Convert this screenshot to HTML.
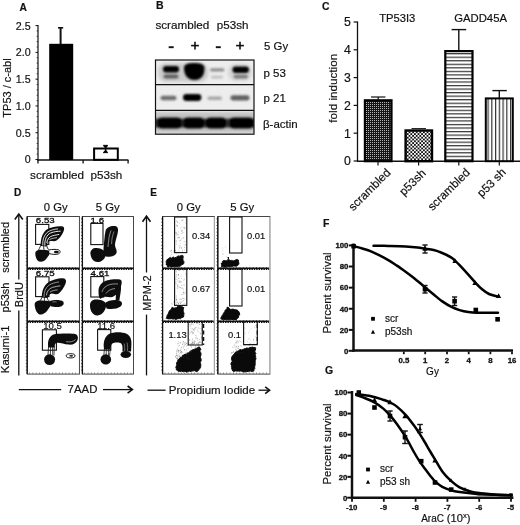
<!DOCTYPE html>
<html><head><meta charset="utf-8"><title>Figure</title>
<style>html,body{margin:0;padding:0;background:#fff}svg{display:block}text{fill:#111;stroke:#111;stroke-width:0.18px}</style></head><body>
<svg width="520" height="525" viewBox="0 0 520 525" font-family="Liberation Sans, Arial, sans-serif">
<defs>
<pattern id="pc1" width="2" height="2" patternUnits="userSpaceOnUse"><rect width="2" height="2" fill="#161616"/><rect width="1" height="1" fill="#b4b4b4"/></pattern>
<pattern id="pc2" width="3.6" height="3.6" patternUnits="userSpaceOnUse"><rect width="3.6" height="3.6" fill="#fff"/><rect width="1.8" height="1.8" fill="#111"/><rect x="1.8" y="1.8" width="1.8" height="1.8" fill="#111"/></pattern>
<pattern id="ph" width="4" height="3.54" patternUnits="userSpaceOnUse"><rect width="4" height="3.54" fill="#fff"/><rect y="0" width="4" height="1.2" fill="#333"/></pattern>
<pattern id="pv" width="3.75" height="4" patternUnits="userSpaceOnUse"><rect width="3.75" height="4" fill="#fff"/><rect x="0" width="1.2" height="4" fill="#333"/></pattern>
<filter id="bl1" x="-20%" y="-50%" width="140%" height="200%"><feGaussianBlur stdDeviation="1.3"/></filter>
<filter id="bl2" x="-20%" y="-50%" width="140%" height="200%"><feGaussianBlur stdDeviation="1.8"/></filter>
<filter id="soft"><feGaussianBlur stdDeviation="0.35"/></filter>
</defs>
<rect width="520" height="525" fill="#fff"/>
<g id="panelA">
<text x="19.6" y="10.6" font-size="10.2" text-anchor="start" font-weight="bold">A</text>
<line x1="38" y1="25" x2="38" y2="160.5" stroke="#111" stroke-width="1.2"/>
<line x1="37.4" y1="160" x2="128.4" y2="160" stroke="#111" stroke-width="1.4"/>
<line x1="38" y1="160" x2="38" y2="163.6" stroke="#111" stroke-width="1.3"/>
<line x1="83.1" y1="160" x2="83.1" y2="163.6" stroke="#111" stroke-width="1.3"/>
<line x1="128.1" y1="160" x2="128.1" y2="163.6" stroke="#111" stroke-width="1.3"/>
<line x1="35.5" y1="159.5" x2="38" y2="159.5" stroke="#111" stroke-width="1"/>
<line x1="36.6" y1="154.14" x2="38" y2="154.14" stroke="#111" stroke-width="0.7"/>
<line x1="36.6" y1="148.79" x2="38" y2="148.79" stroke="#111" stroke-width="0.7"/>
<line x1="36.6" y1="143.43" x2="38" y2="143.43" stroke="#111" stroke-width="0.7"/>
<line x1="36.6" y1="138.08" x2="38" y2="138.08" stroke="#111" stroke-width="0.7"/>
<line x1="35.5" y1="132.72" x2="38" y2="132.72" stroke="#111" stroke-width="1"/>
<line x1="36.6" y1="127.36" x2="38" y2="127.36" stroke="#111" stroke-width="0.7"/>
<line x1="36.6" y1="122.01" x2="38" y2="122.01" stroke="#111" stroke-width="0.7"/>
<line x1="36.6" y1="116.65" x2="38" y2="116.65" stroke="#111" stroke-width="0.7"/>
<line x1="36.6" y1="111.3" x2="38" y2="111.3" stroke="#111" stroke-width="0.7"/>
<line x1="35.5" y1="105.94" x2="38" y2="105.94" stroke="#111" stroke-width="1"/>
<line x1="36.6" y1="100.58" x2="38" y2="100.58" stroke="#111" stroke-width="0.7"/>
<line x1="36.6" y1="95.23" x2="38" y2="95.23" stroke="#111" stroke-width="0.7"/>
<line x1="36.6" y1="89.87" x2="38" y2="89.87" stroke="#111" stroke-width="0.7"/>
<line x1="36.6" y1="84.52" x2="38" y2="84.52" stroke="#111" stroke-width="0.7"/>
<line x1="35.5" y1="79.16" x2="38" y2="79.16" stroke="#111" stroke-width="1"/>
<line x1="36.6" y1="73.8" x2="38" y2="73.8" stroke="#111" stroke-width="0.7"/>
<line x1="36.6" y1="68.45" x2="38" y2="68.45" stroke="#111" stroke-width="0.7"/>
<line x1="36.6" y1="63.09" x2="38" y2="63.09" stroke="#111" stroke-width="0.7"/>
<line x1="36.6" y1="57.74" x2="38" y2="57.74" stroke="#111" stroke-width="0.7"/>
<line x1="35.5" y1="52.38" x2="38" y2="52.38" stroke="#111" stroke-width="1"/>
<line x1="36.6" y1="47.02" x2="38" y2="47.02" stroke="#111" stroke-width="0.7"/>
<line x1="36.6" y1="41.67" x2="38" y2="41.67" stroke="#111" stroke-width="0.7"/>
<line x1="36.6" y1="36.31" x2="38" y2="36.31" stroke="#111" stroke-width="0.7"/>
<line x1="36.6" y1="30.96" x2="38" y2="30.96" stroke="#111" stroke-width="0.7"/>
<line x1="35.5" y1="25.6" x2="38" y2="25.6" stroke="#111" stroke-width="1"/>
<text x="30.6" y="29.5" font-size="10.7" text-anchor="end">2.5</text>
<text x="30.6" y="56.28" font-size="10.7" text-anchor="end">2.0</text>
<text x="30.6" y="83.06" font-size="10.7" text-anchor="end">1.5</text>
<text x="30.6" y="109.84" font-size="10.7" text-anchor="end">1.0</text>
<text x="30.6" y="136.62" font-size="10.7" text-anchor="end">0.5</text>
<text x="30.6" y="163.4" font-size="10.7" text-anchor="end">0</text>
<text x="10.6" y="88" font-size="11" text-anchor="middle" transform="rotate(-90 10.6 88)">TP53 / c-abl</text>
<rect x="49.2" y="43.8" width="24" height="116.2" fill="#000"/>
<line x1="60.6" y1="28" x2="60.6" y2="44" stroke="#111" stroke-width="2"/>
<line x1="58" y1="27.8" x2="63.2" y2="27.8" stroke="#111" stroke-width="1.6"/>
<rect x="94.1" y="148.5" width="23.7" height="11.3" fill="#fff" stroke="#000" stroke-width="2"/>
<line x1="105.6" y1="145.5" x2="105.6" y2="152.5" stroke="#111" stroke-width="1.5"/>
<line x1="103.1" y1="145.5" x2="107.9" y2="145.5" stroke="#111" stroke-width="1.3"/>
<line x1="103.1" y1="152.5" x2="107.9" y2="152.5" stroke="#111" stroke-width="1.3"/>
<path d="M103.4 146 h4.4 l-2.2 2.6z M105.6 149.6 l2.2 2.6 h-4.4z" fill="#000"/>
<text x="30.1" y="179" font-size="11.7" text-anchor="start">scrambled</text>
<text x="90.5" y="179" font-size="11.7" text-anchor="start">p53sh</text>
</g>
<g id="panelB">
<text x="156" y="9" font-size="10.5" text-anchor="start" font-weight="bold">B</text>
<text x="155.4" y="28.7" font-size="11.7" text-anchor="start">scrambled</text>
<text x="216.8" y="28.7" font-size="11.6" text-anchor="start">p53sh</text>
<line x1="168.7" y1="47.2" x2="173.7" y2="47.2" stroke="#111" stroke-width="1.9"/>
<line x1="215.8" y1="47.2" x2="220.8" y2="47.2" stroke="#111" stroke-width="1.9"/>
<line x1="191.1" y1="45.6" x2="198.9" y2="45.6" stroke="#111" stroke-width="1.6"/>
<line x1="195" y1="41.7" x2="195" y2="49.5" stroke="#111" stroke-width="1.6"/>
<line x1="236.1" y1="45.6" x2="243.9" y2="45.6" stroke="#111" stroke-width="1.6"/>
<line x1="240" y1="41.7" x2="240" y2="49.5" stroke="#111" stroke-width="1.6"/>
<text x="264.1" y="50" font-size="11.4" text-anchor="start">5 Gy</text>
<text x="263.5" y="77" font-size="11.5" text-anchor="start">p 53</text>
<text x="263.5" y="102" font-size="11.5" text-anchor="start">p 21</text>
<text x="263" y="128" font-size="11.5" text-anchor="start">β-actin</text>
<clipPath id="blotclip"><rect x="155.5" y="60" width="98.5" height="74"/></clipPath>
<rect x="155.5" y="60" width="98.5" height="74" fill="#ededed"/>
<g clip-path="url(#blotclip)">
<g filter="url(#bl2)" opacity="0.5">
<rect x="158" y="63" width="50" height="19" rx="8" fill="#aaa"/>
<rect x="228" y="64" width="24" height="17" rx="8" fill="#bbb"/>
<rect x="155" y="112" width="100" height="21" fill="#999"/>
</g>
<g filter="url(#bl1)">
<rect x="163" y="66" width="16" height="6.6" rx="3" fill="#000"/>
<rect x="163.5" y="74.4" width="15" height="4.2" rx="2" fill="#444" opacity="0.8"/>
<path d="M184 68 C184 64 188 63 194 63 C200 63 204.5 64 204.5 68 C204.5 73 203 80 194.5 80 C186 80 184 73 184 68Z" fill="#000"/>
<path d="M185.5 68 C185.5 65 189 64.2 194 64.2 C199 64.2 203 65 203 68 C203 73 201 78.6 194.5 78.6 C188 78.6 185.5 73 185.5 68Z" fill="#000"/>
<rect x="210" y="68.2" width="14.5" height="3.4" rx="1.7" fill="#666" opacity="0.7"/>
<rect x="211" y="75.8" width="12" height="2.6" rx="1.3" fill="#888" opacity="0.45"/>
<rect x="232.5" y="66.4" width="16.4" height="6.6" rx="3" fill="#000"/>
<rect x="233.5" y="74.8" width="14.5" height="3.6" rx="1.8" fill="#555" opacity="0.7"/>
<rect x="160.5" y="95.8" width="16" height="4.4" rx="2.2" fill="#444" opacity="0.75"/>
<rect x="183" y="94" width="18.4" height="7" rx="3.4" fill="#000"/>
<rect x="207.5" y="96.4" width="14.5" height="3.6" rx="1.8" fill="#777" opacity="0.6"/>
<rect x="230.5" y="95.2" width="19" height="5.2" rx="2.6" fill="#333" opacity="0.75"/>
</g>
<g filter="url(#bl1)">
<rect x="150" y="118.6" width="110" height="9" fill="#333"/>
<rect x="157" y="117.4" width="25" height="11.2" rx="5" fill="#000"/>
<rect x="183" y="117.4" width="21.5" height="11.2" rx="5" fill="#000"/>
<rect x="205.5" y="117.4" width="21" height="11.2" rx="5" fill="#000"/>
<rect x="229" y="117.4" width="25" height="11.2" rx="5" fill="#000"/>
</g>
</g>
<rect x="155.5" y="60" width="98.5" height="74.2" fill="none" stroke="#111" stroke-width="1.2"/>
<line x1="155.5" y1="84.7" x2="254" y2="84.7" stroke="#111" stroke-width="1.2"/>
<line x1="155.5" y1="110.4" x2="254" y2="110.4" stroke="#111" stroke-width="1.4"/>
</g>
<g id="panelC">
<text x="322" y="9.7" font-size="10.4" text-anchor="start" font-weight="bold">C</text>
<line x1="357.5" y1="21.5" x2="357.5" y2="161.6" stroke="#111" stroke-width="1.3"/>
<line x1="357" y1="161.2" x2="520" y2="161.2" stroke="#111" stroke-width="1.4"/>
<line x1="353.6" y1="161.0" x2="357.5" y2="161.0" stroke="#111" stroke-width="1.2"/>
<text x="350.8" y="165.4" font-size="12.3" text-anchor="end">0</text>
<line x1="353.6" y1="133.2" x2="357.5" y2="133.2" stroke="#111" stroke-width="1.2"/>
<text x="350.8" y="137.6" font-size="12.3" text-anchor="end">1</text>
<line x1="353.6" y1="105.4" x2="357.5" y2="105.4" stroke="#111" stroke-width="1.2"/>
<text x="350.8" y="109.8" font-size="12.3" text-anchor="end">2</text>
<line x1="353.6" y1="77.6" x2="357.5" y2="77.6" stroke="#111" stroke-width="1.2"/>
<text x="350.8" y="82.0" font-size="12.3" text-anchor="end">3</text>
<line x1="353.6" y1="49.8" x2="357.5" y2="49.8" stroke="#111" stroke-width="1.2"/>
<text x="350.8" y="54.2" font-size="12.3" text-anchor="end">4</text>
<line x1="353.6" y1="22.0" x2="357.5" y2="22.0" stroke="#111" stroke-width="1.2"/>
<text x="350.8" y="26.4" font-size="12.3" text-anchor="end">5</text>
<text x="336.6" y="88.2" font-size="11.7" text-anchor="middle" transform="rotate(-90 336.6 88.2)">fold induction</text>
<text x="397.2" y="21.8" font-size="11.2" text-anchor="middle">TP53I3</text>
<text x="480.6" y="21.8" font-size="11.3" text-anchor="middle">GADD45A</text>
<rect x="364.90000000000003" y="100.3" width="26.600000000000012" height="60.899999999999984" fill="url(#pc1)" stroke="#000" stroke-width="2.2"/>
<line x1="378.2" y1="97" x2="378.2" y2="99.5" stroke="#111" stroke-width="1.3"/>
<line x1="371" y1="97" x2="385.4" y2="97" stroke="#111" stroke-width="1.2"/>
<rect x="405.59999999999997" y="130.5" width="26.400000000000013" height="30.699999999999978" fill="url(#pc2)" stroke="#000" stroke-width="2.4"/>
<line x1="411.5" y1="128.6" x2="426" y2="128.6" stroke="#111" stroke-width="1"/>
<rect x="445.3" y="51.1" width="27.200000000000035" height="110.1" fill="url(#ph)" stroke="#000" stroke-width="2.2"/>
<line x1="458.8" y1="29.5" x2="458.8" y2="50.5" stroke="#111" stroke-width="1.4"/>
<line x1="451.6" y1="29.6" x2="466.2" y2="29.6" stroke="#111" stroke-width="1.4"/>
<rect x="485.8" y="98.4" width="26.999999999999943" height="62.79999999999998" fill="url(#pv)" stroke="#000" stroke-width="2"/>
<line x1="499.3" y1="90.6" x2="499.3" y2="98" stroke="#111" stroke-width="1.4"/>
<line x1="492.4" y1="90.6" x2="506.8" y2="90.6" stroke="#111" stroke-width="1.4"/>
<line x1="378" y1="161.5" x2="378" y2="165.4" stroke="#111" stroke-width="1.2"/>
<line x1="418.6" y1="161.5" x2="418.6" y2="165.4" stroke="#111" stroke-width="1.2"/>
<line x1="458.8" y1="161.5" x2="458.8" y2="165.4" stroke="#111" stroke-width="1.2"/>
<line x1="499.3" y1="161.5" x2="499.3" y2="165.4" stroke="#111" stroke-width="1.2"/>
<text x="391.3" y="173.3" font-size="11.7" text-anchor="end" transform="rotate(-45 391.3 173.3)">scrambled</text>
<text x="426.5" y="173.8" font-size="11.7" text-anchor="end" transform="rotate(-45 426.5 173.8)">p53sh</text>
<text x="470.6" y="173.2" font-size="11.7" text-anchor="end" transform="rotate(-45 470.6 173.2)">scrambled</text>
<text x="506.6" y="173" font-size="11.7" text-anchor="end" transform="rotate(-45 506.6 173)">p53 sh</text>
</g>
<g id="panelD">
<text x="14" y="196" font-size="10" text-anchor="start" font-weight="bold">D</text>
<text x="55.7" y="210.9" font-size="11.3" text-anchor="middle">0 Gy</text>
<text x="107.7" y="210.9" font-size="11.3" text-anchor="middle">5 Gy</text>
<text x="9.3" y="247.3" font-size="11" text-anchor="middle" transform="rotate(-90 9.3 247.3)">scrambled</text>
<text x="9.3" y="297.5" font-size="11" text-anchor="middle" transform="rotate(-90 9.3 297.5)">p53sh</text>
<text x="9.1" y="349.3" font-size="11.3" text-anchor="middle" transform="rotate(-90 9.1 349.3)">Kasumi-1</text>
<text x="23.3" y="294.6" font-size="11" text-anchor="middle" transform="rotate(-90 23.3 294.6)">BrdU</text>
<line x1="18.8" y1="214.5" x2="18.8" y2="279.5" stroke="#111" stroke-width="1.3"/>
<line x1="18.8" y1="310.5" x2="18.8" y2="375.4" stroke="#111" stroke-width="1.3"/>
<path d="M14.8 219.5 L18.8 214 L22.8 219.5" fill="none" stroke="#111" stroke-width="1.6"/>
<line x1="18.8" y1="389.6" x2="61.2" y2="389.6" stroke="#111" stroke-width="1.3"/>
<line x1="103" y1="389.6" x2="132" y2="389.6" stroke="#111" stroke-width="1.3"/>
<path d="M127.6 386 L132.4 389.6 L127.6 393.2" fill="none" stroke="#111" stroke-width="1.6"/>
<text x="82.5" y="393" font-size="11.4" text-anchor="middle">7AAD</text>
<rect x="27.2" y="216.5" width="52.2" height="52.0" fill="#fff" stroke="#333" stroke-width="0.9"/>
<rect x="27.2" y="268.5" width="52.2" height="53.0" fill="#fff" stroke="#333" stroke-width="0.9"/>
<rect x="27.2" y="321.5" width="52.2" height="52.60000000000002" fill="#fff" stroke="#333" stroke-width="0.9"/>
<line x1="27.2" y1="268.2" x2="79.4" y2="268.2" stroke="#111" stroke-width="1.5"/>
<line x1="27.2" y1="269.3" x2="79.4" y2="269.3" stroke="#111" stroke-width="1.2" stroke-dasharray="1.5 0.9"/>
<line x1="27.2" y1="321.2" x2="79.4" y2="321.2" stroke="#111" stroke-width="1.5"/>
<line x1="27.2" y1="322.3" x2="79.4" y2="322.3" stroke="#111" stroke-width="1.2" stroke-dasharray="1.5 0.9"/>
<line x1="27.2" y1="216.5" x2="27.2" y2="268.5" stroke="#111" stroke-width="1.3"/>
<line x1="26.3" y1="218.5" x2="26.3" y2="267.5" stroke="#111" stroke-width="1" stroke-dasharray="0.8 2.5" opacity="0.85"/>
<line x1="29.2" y1="267.5" x2="78.4" y2="267.5" stroke="#111" stroke-width="1" stroke-dasharray="0.7 2.6" opacity="0.8"/>
<line x1="27.2" y1="268.5" x2="27.2" y2="321.5" stroke="#111" stroke-width="1.3"/>
<line x1="26.3" y1="270.5" x2="26.3" y2="320.5" stroke="#111" stroke-width="1" stroke-dasharray="0.8 2.5" opacity="0.85"/>
<line x1="29.2" y1="320.5" x2="78.4" y2="320.5" stroke="#111" stroke-width="1" stroke-dasharray="0.7 2.6" opacity="0.8"/>
<line x1="27.2" y1="321.5" x2="27.2" y2="374.1" stroke="#111" stroke-width="1.3"/>
<line x1="26.3" y1="323.5" x2="26.3" y2="373.1" stroke="#111" stroke-width="1" stroke-dasharray="0.8 2.5" opacity="0.85"/>
<line x1="29.2" y1="373.1" x2="78.4" y2="373.1" stroke="#111" stroke-width="1" stroke-dasharray="0.7 2.6" opacity="0.8"/>
<rect x="82.4" y="216.5" width="51.099999999999994" height="52.0" fill="#fff" stroke="#333" stroke-width="0.9"/>
<rect x="82.4" y="268.5" width="51.099999999999994" height="53.0" fill="#fff" stroke="#333" stroke-width="0.9"/>
<rect x="82.4" y="321.5" width="51.099999999999994" height="52.60000000000002" fill="#fff" stroke="#333" stroke-width="0.9"/>
<line x1="82.4" y1="268.2" x2="133.5" y2="268.2" stroke="#111" stroke-width="1.5"/>
<line x1="82.4" y1="269.3" x2="133.5" y2="269.3" stroke="#111" stroke-width="1.2" stroke-dasharray="1.5 0.9"/>
<line x1="82.4" y1="321.2" x2="133.5" y2="321.2" stroke="#111" stroke-width="1.5"/>
<line x1="82.4" y1="322.3" x2="133.5" y2="322.3" stroke="#111" stroke-width="1.2" stroke-dasharray="1.5 0.9"/>
<line x1="82.4" y1="216.5" x2="82.4" y2="268.5" stroke="#111" stroke-width="1.3"/>
<line x1="81.5" y1="218.5" x2="81.5" y2="267.5" stroke="#111" stroke-width="1" stroke-dasharray="0.8 2.5" opacity="0.85"/>
<line x1="84.4" y1="267.5" x2="132.5" y2="267.5" stroke="#111" stroke-width="1" stroke-dasharray="0.7 2.6" opacity="0.8"/>
<line x1="82.4" y1="268.5" x2="82.4" y2="321.5" stroke="#111" stroke-width="1.3"/>
<line x1="81.5" y1="270.5" x2="81.5" y2="320.5" stroke="#111" stroke-width="1" stroke-dasharray="0.8 2.5" opacity="0.85"/>
<line x1="84.4" y1="320.5" x2="132.5" y2="320.5" stroke="#111" stroke-width="1" stroke-dasharray="0.7 2.6" opacity="0.8"/>
<line x1="82.4" y1="321.5" x2="82.4" y2="374.1" stroke="#111" stroke-width="1.3"/>
<line x1="81.5" y1="323.5" x2="81.5" y2="373.1" stroke="#111" stroke-width="1" stroke-dasharray="0.8 2.5" opacity="0.85"/>
<line x1="84.4" y1="373.1" x2="132.5" y2="373.1" stroke="#111" stroke-width="1" stroke-dasharray="0.7 2.6" opacity="0.8"/>
<rect x="35.6" y="224.4" width="13.199999999999996" height="20.0" fill="#fff" fill-opacity="0.6" stroke="#111" stroke-width="1.1"/>
<g transform="translate(27 216)" filter="url(#soft)">
<path d="M14.6 27 C13.6 30 12.6 32 11.6 34 M17 28 C16.4 31 16.8 33 17.2 34.5 M19.8 29 C19.8 31.5 20.8 33 22.4 34.2" fill="none" stroke="#111" stroke-width="0.9"/>
<path d="M8.3 38 C8 35 10.5 33.6 14 33.8 C17.5 34 21.5 34 23.2 35.2 C23.6 37.5 21.5 40 19.5 42.5 C17.5 45 15 46.2 12.5 45.6 C9.8 44.8 8.5 41 8.3 38Z" fill="#0a0a0a"/>
<path d="M22 34 C25 33.2 29 33.2 31.5 33.8 C33.6 34.4 33.6 37.2 31.5 37.9 C28.5 38.8 25 38.4 22.5 37.6" fill="#fff" stroke="#111" stroke-width="1"/>
<ellipse cx="29.4" cy="36" rx="2.5" ry="1.2" fill="#111"/>
<path d="M13.8 30 C13.4 24 15 17.5 19 14 C23.5 10.8 30.5 9.8 35 10.3 C37.6 10.8 37.6 13 36.4 15.8 C35 19.2 32.4 22.6 29.6 24.6 C27.4 25.8 24.4 24.6 22 25.4 C20 26.4 20 28.6 19.6 30.6Z" fill="#111"/>
<path d="M15.8 29.5 C15.4 24 16.8 19.5 20.2 16.4 C23 14.2 27 13.2 31 12.9" fill="none" stroke="#fff" stroke-width="0.9" opacity="0.85"/>
<path d="M17.8 29.6 C17.6 23.5 19.5 19 23.5 17 C27 15.6 31 15.2 33.6 15.2" fill="none" stroke="#fff" stroke-width="1" opacity="0.9"/>
<path d="M19.8 27 C20.2 23 22.5 20.6 25.5 19.8 C28 19.1 30.5 18.8 32.2 18.4" fill="none" stroke="#fff" stroke-width="1" opacity="0.9"/>
<path d="M22.5 23.6 C24.5 22.4 27.5 22 30 21.6" fill="none" stroke="#fff" stroke-width="0.8" opacity="0.85"/>
</g>
<text transform="translate(35.8 223.4) scale(1.2 1)" font-size="8.1" style="stroke-width:0.3px">6.53</text>
<rect x="35.6" y="276.8" width="13.399999999999999" height="19.80000000000001" fill="#fff" fill-opacity="0.6" stroke="#111" stroke-width="1.1"/>
<g transform="translate(27 268)" filter="url(#soft)">
<path d="M15.4 28 C14.6 30.5 13.6 32 12.6 33.5 M17.6 28.5 C17.2 31 17.4 32.6 17.8 33.8 M20.2 29.4 C20.4 31.4 21.4 32.6 22.8 33.4" fill="none" stroke="#111" stroke-width="0.9"/>
<path d="M7.7 37 C7.4 34 10 32.3 14 32.5 C18 32.7 22.5 32.8 24.3 34 C24.8 36.6 22.5 39.6 20.3 42.6 C18.2 45.4 15.5 47 12.6 46.4 C9.6 45.6 7.9 40.6 7.7 37Z" fill="#0a0a0a"/>
<path d="M23 33 C26.5 31.8 32 31.8 35 32.8 C37.4 33.8 37.2 37 34.6 38.2 C31 39.6 26.5 39.2 23.4 38Z" fill="#111"/>
<path d="M25.5 34.2 C27 33.6 28.6 33.6 29.6 34" fill="none" stroke="#fff" stroke-width="0.6" opacity="0.7"/>
<path d="M14.9 29.5 C14.5 24 16.5 18.5 20.2 15.2 C24.5 11.8 31.5 10 36 10.2 C39 10.6 39.6 12.8 38.6 15.4 C37.2 19 34.6 23 31.8 25.6 C30 27.2 27.4 25.8 24.8 25.6 C22.6 25.8 21.4 27.6 20.6 30Z" fill="#111"/>
<path d="M17 29 C16.8 24 18.5 20 21.5 17.5 C24.5 15.4 28.5 14.4 32 14" fill="none" stroke="#fff" stroke-width="0.7" opacity="0.75"/>
<path d="M19.4 27.4 C19.8 23.4 22 20.6 25.4 19.4 C28 18.6 31 18.2 33.4 17.8" fill="none" stroke="#fff" stroke-width="0.8" opacity="0.8"/>
<path d="M23 24 C25 22.6 28 22.2 30.6 21.8" fill="none" stroke="#fff" stroke-width="0.7" opacity="0.8"/>
</g>
<text transform="translate(35.8 276.2) scale(1.2 1)" font-size="8.1" style="stroke-width:0.3px">6.75</text>
<rect x="90.8" y="223.4" width="12.200000000000003" height="21.19999999999999" fill="#fff" fill-opacity="0.6" stroke="#111" stroke-width="1.1"/>
<g filter="url(#soft)">
<path d="M90.5 254 C90 250 93 247.5 97 248 C101 248.5 105 250 105.5 254 C106 258 102 262 97.5 262 C93 262 91 258 90.5 254Z" fill="#0a0a0a"/>
<path d="M103.5 249 C104 243 104.5 236 105.5 231 C106.5 227 111 225.5 115 226 C118.5 226.5 118.5 230 117.5 234 C116.5 238 115 242 115 245 C115 248 117.5 250 116.5 253 C115.5 256 110 257.5 106 256.5 C103 255.8 103.3 252 103.5 249Z" fill="#111"/>
<path d="M108 247 C108.5 241 109 235 111 230.5" fill="none" stroke="#fff" stroke-width="0.7" opacity="0.7"/>
<path d="M111.5 244 C111.8 239 112.5 235 114 231.5" fill="none" stroke="#fff" stroke-width="0.6" opacity="0.7"/>
</g>
<text transform="translate(90.6 223) scale(1.2 1)" font-size="8.1" style="stroke-width:0.3px">1.6</text>
<rect x="90.8" y="276.6" width="13.0" height="20.399999999999977" fill="#fff" fill-opacity="0.6" stroke="#111" stroke-width="1.1"/>
<g filter="url(#soft)">
<path d="M90 306 C89.8 302 92 299.5 96 299.5 C100 299.5 105.5 300.5 106 304.5 C106.5 309 103 315 97.5 315.4 C92.5 315.6 90.2 310.5 90 306Z" fill="#0a0a0a"/>
<path d="M105 303 C108 300.5 114 299.5 119 300.5 C122.5 301.2 122.8 304.5 120.5 306.5 C117.5 309 111 309.6 106.5 308.5Z" fill="#111"/>
<path d="M98.5 291 C98.5 286 101.5 282 106.5 280.5 C111 279.2 117 278.8 120 279.5 C122.5 280.2 122 284 120.5 287.5 C119 291.5 116 295.5 112.5 297 C109.5 298 106 296 103.5 297 C101.5 298 100.5 299.5 99.5 298 C98.7 296.5 98.5 293.5 98.5 291Z" fill="#111"/>
<path d="M116 288 C118 286 120.5 284 121 286 C121.4 290 120 295 119.4 300.5 L115.6 300.5 C115.8 296 116.4 292 116 288Z" fill="#111"/>
<path d="M102 292 C103 288 106 285.5 110 284.5 C113 283.8 116 283.8 118 284" fill="none" stroke="#fff" stroke-width="0.7" opacity="0.7"/>
<path d="M106 293.5 C108 290.5 111 289 115 288.5" fill="none" stroke="#fff" stroke-width="0.7" opacity="0.7"/>
<path d="M108 300 C110 297.5 113 297 115.5 298.5" fill="none" stroke="#fff" stroke-width="0.6" opacity="0.6"/>
</g>
<text transform="translate(90.6 276.2) scale(1.2 1)" font-size="8.1" style="stroke-width:0.3px">4.61</text>
<rect x="42.4" y="329.8" width="14.0" height="20.399999999999977" fill="#fff" fill-opacity="0.6" stroke="#111" stroke-width="1.1"/>
<g filter="url(#soft)">
<ellipse cx="49.6" cy="359.6" rx="5.5" ry="5.4" fill="#0a0a0a"/>
<path d="M48 345 C47.8 340 49.6 335.4 54.5 334.2 C60 333.4 69 333.4 74 333.8 C77.6 334.2 78.6 337 77.6 340 C76.4 343.6 72.5 345 68.5 344.6 C64 344.2 59.5 342.2 56.8 342.8 C54.6 343.4 54.8 345.5 54.6 347.5 L48.2 347.5Z" fill="#111"/>
<path d="M66 341.6 C70 342.4 73.5 341.6 75.6 339.6" fill="none" stroke="#fff" stroke-width="0.7" opacity="0.7"/>
<path d="M48.6 346 C48.4 349 48.2 352 48 355 M50.6 346 C50.5 349 50.4 352 50.4 355 M52.6 346 C52.6 349 52.6 352 52.8 355 M54.4 346 C54.2 349 54 352 54 355.4" fill="none" stroke="#111" stroke-width="0.8"/>
<ellipse cx="70.6" cy="355.8" rx="4.4" ry="2.1" fill="#fff" stroke="#111" stroke-width="1"/>
<ellipse cx="71.2" cy="355.8" rx="2" ry="0.9" fill="#222"/>
</g>
<text x="43.2" y="329.3" font-size="9.6" text-anchor="start">10.5</text>
<rect x="97.6" y="329.6" width="13.200000000000003" height="20.599999999999966" fill="#fff" fill-opacity="0.6" stroke="#111" stroke-width="1.1"/>
<g filter="url(#soft)">
<ellipse cx="105.8" cy="359.4" rx="5.3" ry="5.2" fill="#0a0a0a"/>
<path d="M103.8 347 C103.4 342 104.6 336.4 109.5 333.8 C114 331.8 122 331.8 126.5 333.8 C130.6 335.8 131.6 340 131.4 344 C131.3 347 131.2 349.5 131 351.5 L122.4 351.5 C122.6 348.5 122.8 345 121.2 343.6 C119 342.2 114.5 342.4 112.5 343.6 C110.8 344.8 110.8 347 110.6 349.5 L104 349.5Z" fill="#111"/>
<path d="M104.4 349 C104.2 351.5 104 353.5 103.8 355.5 M106.4 349 C106.3 351.5 106.2 353.5 106.2 355.5 M108.4 349 C108.4 351.5 108.4 353.5 108.6 355.5 M110.2 349 C110 351.5 109.8 353.5 109.6 355.8" fill="none" stroke="#111" stroke-width="0.8"/>
<path d="M124.6 351 C124.6 348 125 345.5 124.2 343.6 M127.4 351 C127.6 348 127.8 345 127 342.6" fill="none" stroke="#fff" stroke-width="0.6" opacity="0.6"/>
<ellipse cx="125.8" cy="354.6" rx="5.3" ry="3.5" fill="#0a0a0a"/>
</g>
<text x="97.2" y="329.3" font-size="9.6" text-anchor="start">11.6</text>
</g>
<g id="panelE">
<text x="150.2" y="195.6" font-size="10" text-anchor="start" font-weight="bold">E</text>
<text x="188.7" y="211.1" font-size="11.3" text-anchor="middle">0 Gy</text>
<text x="242.3" y="211.1" font-size="11.3" text-anchor="middle">5 Gy</text>
<text x="151" y="293" font-size="11" text-anchor="middle" transform="rotate(-90 151 293)">MPM-2</text>
<line x1="146.5" y1="216.5" x2="146.5" y2="272.5" stroke="#111" stroke-width="1.3"/>
<line x1="146.5" y1="314.6" x2="146.5" y2="375.4" stroke="#111" stroke-width="1.3"/>
<path d="M142.5 221.8 L146.5 216.2 L150.5 221.8" fill="none" stroke="#111" stroke-width="1.6"/>
<line x1="147.5" y1="390.2" x2="165.6" y2="390.2" stroke="#111" stroke-width="1.3"/>
<line x1="258.5" y1="390.2" x2="269.2" y2="390.2" stroke="#111" stroke-width="1.3"/>
<path d="M265.2 386.8 L269.6 390.2 L265.2 393.6" fill="none" stroke="#111" stroke-width="1.6"/>
<text x="212" y="394" font-size="11.5" text-anchor="middle">Propidium Iodide</text>
<rect x="162.6" y="216.5" width="51.80000000000001" height="52.0" fill="#fff" stroke="#333" stroke-width="0.9"/>
<rect x="162.6" y="268.5" width="51.80000000000001" height="53.0" fill="#fff" stroke="#333" stroke-width="0.9"/>
<rect x="162.6" y="321.5" width="51.80000000000001" height="52.60000000000002" fill="#fff" stroke="#333" stroke-width="0.9"/>
<line x1="162.6" y1="268.2" x2="214.4" y2="268.2" stroke="#111" stroke-width="1.5"/>
<line x1="162.6" y1="269.3" x2="214.4" y2="269.3" stroke="#111" stroke-width="1.2" stroke-dasharray="1.5 0.9"/>
<line x1="162.6" y1="321.2" x2="214.4" y2="321.2" stroke="#111" stroke-width="1.5"/>
<line x1="162.6" y1="322.3" x2="214.4" y2="322.3" stroke="#111" stroke-width="1.2" stroke-dasharray="1.5 0.9"/>
<line x1="214.4" y1="217.1" x2="214.4" y2="373.5" stroke="#111" stroke-width="1.3" style="stroke:#fff"/>
<line x1="214.4" y1="216.5" x2="214.4" y2="374.1" stroke="#111" stroke-width="1" style="stroke:#999"/>
<line x1="162.6" y1="216.5" x2="162.6" y2="268.5" stroke="#111" stroke-width="1.3"/>
<line x1="161.7" y1="218.5" x2="161.7" y2="267.5" stroke="#111" stroke-width="1" stroke-dasharray="0.8 2.5" opacity="0.85"/>
<line x1="164.6" y1="267.5" x2="213.4" y2="267.5" stroke="#111" stroke-width="1" stroke-dasharray="0.7 2.6" opacity="0.8"/>
<line x1="162.6" y1="268.5" x2="162.6" y2="321.5" stroke="#111" stroke-width="1.3"/>
<line x1="161.7" y1="270.5" x2="161.7" y2="320.5" stroke="#111" stroke-width="1" stroke-dasharray="0.8 2.5" opacity="0.85"/>
<line x1="164.6" y1="320.5" x2="213.4" y2="320.5" stroke="#111" stroke-width="1" stroke-dasharray="0.7 2.6" opacity="0.8"/>
<line x1="162.6" y1="321.5" x2="162.6" y2="374.1" stroke="#111" stroke-width="1.3"/>
<line x1="161.7" y1="323.5" x2="161.7" y2="373.1" stroke="#111" stroke-width="1" stroke-dasharray="0.8 2.5" opacity="0.85"/>
<line x1="164.6" y1="373.1" x2="213.4" y2="373.1" stroke="#111" stroke-width="1" stroke-dasharray="0.7 2.6" opacity="0.8"/>
<rect x="217.8" y="216.5" width="52.099999999999966" height="52.0" fill="#fff" stroke="#333" stroke-width="0.9"/>
<rect x="217.8" y="268.5" width="52.099999999999966" height="53.0" fill="#fff" stroke="#333" stroke-width="0.9"/>
<rect x="217.8" y="321.5" width="52.099999999999966" height="52.60000000000002" fill="#fff" stroke="#333" stroke-width="0.9"/>
<line x1="217.8" y1="268.2" x2="269.9" y2="268.2" stroke="#111" stroke-width="1.5"/>
<line x1="217.8" y1="269.3" x2="269.9" y2="269.3" stroke="#111" stroke-width="1.2" stroke-dasharray="1.5 0.9"/>
<line x1="217.8" y1="321.2" x2="269.9" y2="321.2" stroke="#111" stroke-width="1.5"/>
<line x1="217.8" y1="322.3" x2="269.9" y2="322.3" stroke="#111" stroke-width="1.2" stroke-dasharray="1.5 0.9"/>
<line x1="269.9" y1="217.1" x2="269.9" y2="373.5" stroke="#111" stroke-width="1.3" style="stroke:#fff"/>
<line x1="269.9" y1="216.5" x2="269.9" y2="374.1" stroke="#111" stroke-width="1" style="stroke:#999"/>
<line x1="217.8" y1="216.5" x2="217.8" y2="268.5" stroke="#111" stroke-width="1.3"/>
<line x1="216.9" y1="218.5" x2="216.9" y2="267.5" stroke="#111" stroke-width="1" stroke-dasharray="0.8 2.5" opacity="0.85"/>
<line x1="219.8" y1="267.5" x2="268.9" y2="267.5" stroke="#111" stroke-width="1" stroke-dasharray="0.7 2.6" opacity="0.8"/>
<line x1="217.8" y1="268.5" x2="217.8" y2="321.5" stroke="#111" stroke-width="1.3"/>
<line x1="216.9" y1="270.5" x2="216.9" y2="320.5" stroke="#111" stroke-width="1" stroke-dasharray="0.8 2.5" opacity="0.85"/>
<line x1="219.8" y1="320.5" x2="268.9" y2="320.5" stroke="#111" stroke-width="1" stroke-dasharray="0.7 2.6" opacity="0.8"/>
<line x1="217.8" y1="321.5" x2="217.8" y2="374.1" stroke="#111" stroke-width="1.3"/>
<line x1="216.9" y1="323.5" x2="216.9" y2="373.1" stroke="#111" stroke-width="1" stroke-dasharray="0.8 2.5" opacity="0.85"/>
<line x1="219.8" y1="373.1" x2="268.9" y2="373.1" stroke="#111" stroke-width="1" stroke-dasharray="0.7 2.6" opacity="0.8"/>
<path d="M178.8 223.1h.7M182.3 220.5h.7M181.1 230.4h.7M176.0 235.3h.7M175.8 232.7h.7M176.1 221.1h.7M179.9 246.1h.7M176.7 225.6h.7M182.1 250.2h.7M181.5 231.5h.7M185.7 219.6h.7M184.5 227.8h.7M176.9 222.0h.7M178.7 245.7h.7M177.3 237.8h.7M182.2 230.7h.7M181.2 220.1h.7M176.0 225.0h.7M182.6 232.5h.7M178.7 237.9h.7M180.2 228.2h.7M183.8 241.8h.7M178.0 237.5h.7M181.0 247.8h.7M183.1 227.8h.7M185.8 222.0h.7M179.8 243.7h.7M177.0 234.6h.7M175.8 240.7h.7M183.5 237.5h.7M184.7 228.7h.7M182.8 238.2h.7M181.5 233.5h.7M184.3 250.1h.7M180.4 240.6h.7M176.0 241.9h.7M182.3 251.8h.7M184.1 227.7h.7M179.5 240.7h.7M175.6 233.7h.7M177.2 222.0h.7M176.0 244.1h.7M176.8 226.4h.7M179.5 247.6h.7M176.3 233.3h.7M181.2 248.0h.7M184.1 247.4h.7M178.4 232.1h.7M179.2 248.1h.7M185.6 223.1h.7M177.3 225.9h.7M177.9 234.5h.7M181.6 226.9h.7M175.4 232.2h.7M179.3 237.3h.7M185.5 241.5h.7M180.9 239.0h.7M182.6 219.8h.7M184.9 244.5h.7M184.7 245.1h.7" stroke="#333" stroke-width="0.7" opacity="0.55" fill="none"/>
<path d="M175.5 252.8h.7M171.4 254.4h.7M170.9 250.5h.7M172.9 251.1h.7M174.8 250.4h.7M170.0 251.1h.7M171.4 252.5h.7M170.4 256.1h.7M178.6 251.0h.7M173.5 252.4h.7M175.1 250.9h.7M181.9 257.0h.7M176.5 253.4h.7M171.2 250.7h.7" stroke="#333" stroke-width="0.7" opacity="0.5" fill="none"/>
<rect x="174.6" y="217" width="12.2" height="35.6" fill="none" stroke="#111" stroke-width="1.1"/>
<path d="M166.0 261.7 L167.0 260.5 L166.4 260.3 L168.5 258.6 L170.1 257.6 L171.3 258.2 L172.9 257.2 L173.5 257.1 L174.6 257.9 L176.5 257.2 L177.8 255.9 L179.9 256.2 L181.4 255.4 L182.5 255.6 L183.0 255.6 L183.2 256.7 L182.9 258.7 L183.1 260.5 L183.9 261.4 L183.8 263.3 L183.7 263.8 L181.8 264.8 L180.6 265.8 L179.7 266.7 L178.6 266.3 L177.0 266.7 L174.9 266.6 L174.5 266.8 L173.0 266.4 L171.0 266.8 L169.9 266.7 L169.4 266.2 L167.4 266.8 L167.1 265.0 L165.8 264.1 L166.7 263.6Z" fill="#0a0a0a" stroke="#0a0a0a" stroke-width="1" stroke-linejoin="round"/>
<text x="192" y="238.7" font-size="9.4" text-anchor="start">0.34</text>
<rect x="229.6" y="217" width="12.4" height="36" fill="none" stroke="#111" stroke-width="1.1"/>
<path d="M220.9 263.8 L222.4 262.7 L222.4 261.5 L223.4 260.6 L225.5 260.7 L226.4 260.7 L227.7 260.4 L228.4 258.3 L228.1 257.0 L228.5 258.7 L229.0 259.9 L230.1 260.6 L231.6 260.4 L233.1 261.0 L234.4 260.6 L236.0 259.8 L237.3 259.6 L238.4 260.1 L238.4 262.0 L239.0 263.0 L238.6 264.5 L237.3 265.8 L236.3 266.2 L234.6 266.1 L233.5 266.0 L232.8 266.3 L231.3 266.7 L230.4 266.5 L228.9 266.6 L227.6 266.8 L226.4 266.7 L225.2 267.2 L224.2 267.1 L223.2 266.5 L221.7 267.2 L221.8 264.8Z" fill="#0a0a0a" stroke="#0a0a0a" stroke-width="1" stroke-linejoin="round"/>
<path d="M222.6 250.7h.7M222.4 248.1h.7M222.4 253.7h.7M225.9 256.7h.7M222.8 254.3h.7M225.3 246.9h.7" stroke="#333" stroke-width="0.7" opacity="0.4" fill="none"/>
<text x="247" y="238.7" font-size="9.4" text-anchor="start">0.01</text>
<path d="M184.8 303.9h.7M177.7 303.3h.7M179.6 287.1h.7M185.9 299.1h.7M177.1 285.1h.7M180.9 281.9h.7M177.5 281.1h.7M183.1 270.7h.7M181.3 285.4h.7M175.6 281.6h.7M182.0 287.9h.7M176.1 304.5h.7M183.8 304.0h.7M176.5 279.3h.7M175.8 297.3h.7M178.3 274.5h.7M179.9 301.9h.7M184.1 279.1h.7M177.0 302.2h.7M181.4 294.5h.7M176.3 272.0h.7M182.7 284.9h.7M176.2 302.8h.7M182.1 298.1h.7M176.3 300.0h.7M176.1 300.2h.7M180.2 281.9h.7M181.3 302.4h.7M178.2 274.5h.7M181.0 278.3h.7M176.6 275.7h.7M175.9 277.1h.7M178.7 280.7h.7M183.5 280.1h.7M180.7 276.2h.7M179.1 270.6h.7M178.1 270.5h.7M183.2 289.3h.7M177.4 286.6h.7M185.3 273.7h.7M184.1 285.1h.7M180.6 299.2h.7M179.6 287.7h.7M182.7 304.4h.7M179.0 299.1h.7M182.9 292.3h.7M179.7 282.2h.7M176.0 274.5h.7M176.1 295.9h.7M178.1 275.7h.7M176.3 299.4h.7M184.6 293.5h.7M178.4 278.5h.7M178.5 286.1h.7M177.1 285.6h.7M178.2 303.7h.7M185.7 289.1h.7M178.0 303.8h.7M178.7 282.5h.7M175.4 283.4h.7M180.4 287.6h.7M177.5 287.7h.7M175.5 279.2h.7M176.4 284.0h.7M175.8 270.8h.7M178.6 278.1h.7M181.6 288.5h.7M183.4 293.0h.7M183.0 300.8h.7M179.5 281.4h.7M185.8 275.2h.7M183.1 292.5h.7M175.9 299.2h.7M184.9 292.0h.7M183.2 298.4h.7M176.9 288.3h.7M180.7 299.2h.7M183.9 298.9h.7M181.6 301.2h.7M182.6 294.3h.7" stroke="#333" stroke-width="0.7" opacity="0.55" fill="none"/>
<path d="M173.2 302.2h.7M171.9 304.2h.7M171.5 307.0h.7M177.8 305.8h.7M178.8 306.1h.7M176.9 302.0h.7M181.2 306.5h.7M177.0 305.2h.7M179.2 302.4h.7M180.3 303.5h.7M171.0 303.6h.7M180.2 303.2h.7" stroke="#333" stroke-width="0.7" opacity="0.5" fill="none"/>
<rect x="174.6" y="269" width="12.2" height="36.4" fill="none" stroke="#111" stroke-width="1.1"/>
<path d="M166.8 317.6 L167.0 315.7 L167.5 314.9 L168.3 313.6 L169.0 311.8 L169.2 310.9 L170.8 309.8 L171.6 308.3 L172.0 307.5 L174.0 308.2 L175.2 307.9 L176.5 307.5 L178.0 306.3 L180.0 306.1 L181.6 306.7 L181.6 306.6 L183.8 307.6 L183.4 308.0 L183.2 310.0 L183.2 310.8 L183.2 312.0 L184.1 312.8 L183.8 314.5 L183.8 316.0 L183.0 317.5 L182.1 317.3 L180.4 318.8 L179.5 318.6 L177.8 318.7 L176.6 319.3 L174.8 319.3 L174.4 318.5 L173.2 319.2 L171.9 318.7 L169.9 318.8 L169.4 318.9 L167.3 318.7 L166.7 317.9 L166.0 318.4 L166.2 318.0Z" fill="#0a0a0a" stroke="#0a0a0a" stroke-width="1" stroke-linejoin="round"/>
<text x="192" y="291.8" font-size="9.4" text-anchor="start">0.67</text>
<rect x="229.6" y="269" width="12.4" height="37" fill="none" stroke="#111" stroke-width="1.1"/>
<path d="M221.0 317.7 L221.7 316.3 L221.9 315.9 L223.0 314.4 L223.5 313.3 L224.7 311.7 L225.3 310.0 L226.1 309.5 L227.0 308.7 L227.2 307.1 L229.0 307.9 L229.5 308.8 L230.8 309.5 L233.1 309.1 L234.4 309.5 L236.1 309.9 L237.0 309.9 L238.4 311.1 L239.0 312.0 L239.8 314.6 L239.1 314.9 L238.6 316.2 L238.6 317.5 L237.1 318.4 L236.1 319.9 L235.0 319.4 L233.2 319.6 L231.9 319.4 L230.1 319.4 L229.9 319.3 L228.0 320.0 L227.2 319.4 L225.2 319.4 L224.0 319.6 L223.4 320.1 L222.0 319.0 L220.9 319.1Z" fill="#0a0a0a" stroke="#0a0a0a" stroke-width="1" stroke-linejoin="round"/>
<text x="247" y="291.8" font-size="9.4" text-anchor="start">0.01</text>
<path d="M200.6 333.7h.7M196.6 323.5h.7M194.1 343.4h.7M199.7 341.9h.7M201.6 328.8h.7M190.4 326.8h.7M195.8 338.2h.7M201.2 339.0h.7M197.4 339.9h.7M194.9 335.4h.7M189.5 340.3h.7M192.0 343.3h.7M197.4 330.0h.7M190.7 328.9h.7M197.3 338.5h.7M190.5 325.0h.7M195.8 336.0h.7M194.0 328.3h.7M196.8 323.7h.7M192.9 333.4h.7M201.5 337.4h.7M200.5 333.7h.7M192.1 328.8h.7M201.5 338.7h.7M193.0 324.0h.7M195.5 338.0h.7M194.5 329.0h.7M197.7 343.4h.7M191.9 324.2h.7M193.4 332.5h.7M197.9 327.8h.7M199.4 339.4h.7M195.6 327.9h.7M201.6 330.2h.7M199.7 328.5h.7M191.9 339.9h.7M192.8 344.0h.7M195.4 327.5h.7M191.9 332.5h.7M197.6 343.9h.7M190.9 332.0h.7M191.8 344.4h.7M190.8 324.6h.7M189.8 332.0h.7M200.7 342.5h.7M198.5 344.9h.7M201.1 330.6h.7M191.4 343.6h.7M198.7 324.2h.7M197.6 331.6h.7M193.9 330.6h.7M191.2 323.6h.7M192.6 331.1h.7M201.4 326.2h.7M201.5 328.0h.7M193.6 341.2h.7M199.7 332.8h.7M189.6 333.7h.7M193.8 343.3h.7M191.5 331.3h.7M200.7 324.2h.7M194.3 341.0h.7M199.0 324.4h.7M189.5 324.8h.7M201.0 329.0h.7M198.7 342.8h.7M193.4 329.4h.7M201.4 336.8h.7M192.4 338.9h.7M193.1 329.4h.7M189.0 339.7h.7M200.9 337.1h.7M201.3 324.0h.7M192.0 333.7h.7M201.4 344.0h.7" stroke="#333" stroke-width="0.7" opacity="0.55" fill="none"/>
<path d="M185.9 343.3h.7M186.9 345.4h.7M198.3 342.6h.7M195.5 347.6h.7M195.9 348.0h.7M191.0 344.0h.7M184.3 344.3h.7M195.0 341.7h.7M181.5 347.8h.7M182.7 341.6h.7M177.8 346.0h.7M184.5 349.8h.7M197.3 349.9h.7M183.1 341.8h.7M179.2 345.5h.7M193.3 345.0h.7M182.4 344.8h.7M191.3 347.1h.7M194.2 348.6h.7M192.3 342.1h.7M196.3 343.6h.7M190.0 344.4h.7M194.0 342.8h.7M182.7 343.2h.7M180.5 349.0h.7M190.3 343.9h.7M186.1 349.9h.7M188.7 343.1h.7M195.6 346.9h.7M199.8 341.9h.7M187.9 348.4h.7M196.3 349.2h.7M177.9 343.6h.7M179.7 342.7h.7M199.4 346.2h.7M198.4 344.4h.7M196.9 345.0h.7M183.0 348.0h.7M198.8 342.0h.7M190.7 346.6h.7M182.0 344.3h.7M180.3 342.8h.7M182.9 346.4h.7M192.0 342.8h.7M177.3 343.9h.7M192.6 342.7h.7M184.2 342.8h.7M195.3 345.9h.7M178.5 341.9h.7M186.1 346.0h.7M191.7 341.8h.7M180.8 347.3h.7M186.4 343.5h.7M184.1 349.6h.7M184.2 346.1h.7M185.2 344.7h.7M196.9 350.0h.7M185.4 342.8h.7M193.7 342.8h.7M177.1 349.1h.7" stroke="#333" stroke-width="0.7" opacity="0.55" fill="none"/>
<path d="M178.0 359.8h.7M177.8 360.6h.7M178.2 352.0h.7M175.1 356.6h.7M179.5 360.9h.7M175.6 357.5h.7M177.6 356.1h.7M176.0 353.4h.7M178.6 361.1h.7M175.8 355.9h.7M180.6 361.6h.7M176.4 351.5h.7M181.6 361.7h.7M178.4 350.6h.7M181.5 354.7h.7M181.3 357.4h.7M180.8 351.9h.7M180.5 352.7h.7M177.8 360.2h.7M180.8 352.2h.7M176.5 354.8h.7M178.6 354.6h.7M175.9 353.0h.7M180.1 360.8h.7M175.3 356.7h.7M180.3 350.5h.7M180.9 351.4h.7M179.2 356.6h.7M179.4 353.7h.7M177.9 357.0h.7" stroke="#333" stroke-width="0.7" opacity="0.5" fill="none"/>
<path d="M202.3 322 V345 H188.2 V322" fill="none" stroke="#111" stroke-width="1.1"/>
<line x1="203.6" y1="324" x2="203.6" y2="345" stroke="#111" stroke-width="1.3" stroke-dasharray="4 2.5"/>
<path d="M176.2 369.7 L176.3 368.2 L175.8 367.3 L176.5 365.5 L176.9 365.1 L176.5 363.1 L177.4 361.6 L177.7 360.7 L178.4 359.4 L179.9 358.0 L180.9 357.2 L182.0 357.3 L182.5 355.4 L183.5 355.1 L185.1 354.1 L186.0 354.6 L186.8 353.6 L187.2 353.3 L188.7 352.7 L190.5 351.1 L191.4 351.6 L191.5 350.3 L193.6 349.5 L194.9 349.2 L195.9 348.5 L196.8 349.0 L197.6 347.5 L199.3 346.9 L199.3 346.9 L200.0 348.0 L200.8 349.3 L200.1 350.4 L200.0 351.4 L200.7 352.5 L201.1 354.1 L200.7 355.9 L200.0 357.4 L200.8 357.9 L201.0 359.0 L201.2 360.7 L200.3 362.2 L200.3 362.7 L200.7 363.8 L200.8 365.4 L200.5 367.7 L200.0 368.6 L199.2 369.0 L198.3 370.5 L197.9 371.0 L196.6 371.7 L194.8 370.8 L194.3 370.6 L192.2 371.1 L191.1 371.2 L190.1 371.6 L189.3 371.1 L188.2 371.6 L186.2 372.2 L185.1 371.1 L183.7 371.7 L183.5 371.9 L181.6 371.1 L179.8 371.7 L179.3 371.2 L178.2 371.3 L177.8 370.8Z" fill="#0a0a0a" stroke="#0a0a0a" stroke-width="1" stroke-linejoin="round"/>
<path d="M180.0 359.0h.7M176.7 355.3h.7M182.5 352.4h.7M176.9 357.8h.7M176.2 355.5h.7M191.1 351.4h.7M179.2 356.1h.7M184.1 356.4h.7M189.0 351.7h.7M181.0 353.0h.7M176.8 358.9h.7M188.5 357.2h.7M176.1 358.4h.7M187.9 354.7h.7M187.9 354.5h.7M179.6 351.1h.7M179.7 350.4h.7M181.4 357.5h.7M187.1 358.5h.7M187.4 352.7h.7M184.9 354.4h.7M188.6 355.2h.7M180.2 356.4h.7M191.4 352.2h.7M190.1 350.2h.7M180.2 352.4h.7M187.9 359.4h.7M187.9 353.3h.7M190.1 353.3h.7M179.8 359.1h.7M186.1 356.9h.7M186.6 359.8h.7M183.5 358.4h.7M187.2 358.6h.7M183.0 357.2h.7M185.1 353.1h.7M179.4 356.2h.7M177.2 359.1h.7M178.3 350.3h.7M177.7 359.3h.7M181.5 351.4h.7M176.5 350.4h.7M187.1 356.3h.7M187.2 357.4h.7M177.1 355.9h.7M181.8 358.2h.7M189.1 358.9h.7M177.1 358.7h.7M190.6 359.4h.7M177.7 352.1h.7M177.8 350.3h.7M189.6 358.1h.7M186.1 358.3h.7M186.1 352.9h.7M177.6 351.0h.7" stroke="#333" stroke-width="0.7" opacity="0.55" fill="none"/>
<text x="168.4" y="338.2" font-size="9.4" text-anchor="start">1.13</text>
<path d="M253.9 327.9h.7M248.4 332.6h.7M244.7 329.0h.7M248.0 338.9h.7M249.0 330.4h.7M256.5 334.3h.7M255.1 336.8h.7M244.8 332.4h.7M249.9 340.1h.7M248.8 338.7h.7M251.2 328.2h.7M255.3 325.5h.7M254.7 327.2h.7M244.4 327.8h.7M254.0 344.5h.7M244.5 334.1h.7" stroke="#333" stroke-width="0.7" opacity="0.35" fill="none"/>
<path d="M243.8 345.4h.7M236.4 343.0h.7M240.3 345.7h.7M238.3 346.6h.7M238.8 340.7h.7M248.8 343.0h.7M234.6 344.1h.7M233.9 345.3h.7M248.7 345.3h.7M247.1 341.8h.7M241.6 342.2h.7M253.4 339.7h.7M253.3 339.2h.7M236.9 341.1h.7M253.6 343.0h.7M241.1 346.1h.7M237.6 342.7h.7M244.8 345.0h.7M250.1 344.2h.7M240.4 341.6h.7M235.7 345.7h.7M247.9 344.9h.7M236.1 342.5h.7M250.6 343.6h.7M235.0 342.7h.7M253.2 340.9h.7M236.6 341.4h.7M248.9 345.7h.7M235.7 340.2h.7M237.9 341.6h.7" stroke="#333" stroke-width="0.7" opacity="0.45" fill="none"/>
<path d="M257.3 322 V344.6 H243.6 V322" fill="none" stroke="#111" stroke-width="1.1"/>
<line x1="257.3" y1="324" x2="257.3" y2="344" stroke="#111" stroke-width="1.3" stroke-dasharray="4 2.5"/>
<path d="M231.6 367.5 L231.4 366.3 L232.3 365.8 L231.0 364.9 L231.0 362.8 L232.3 362.2 L231.9 360.4 L231.5 359.3 L231.7 357.3 L232.5 355.7 L232.9 355.4 L234.1 354.1 L234.9 353.2 L235.1 352.5 L236.4 351.8 L238.2 350.9 L238.9 350.8 L239.8 349.5 L241.3 349.9 L242.6 349.4 L243.9 349.2 L244.8 348.6 L245.5 348.6 L246.4 348.1 L248.8 348.2 L249.9 347.4 L251.0 347.4 L252.7 347.1 L254.1 347.7 L254.9 347.2 L255.7 348.1 L255.4 350.2 L254.8 350.9 L255.0 352.5 L256.1 353.5 L255.0 354.8 L255.7 356.3 L255.6 357.4 L256.0 358.5 L255.4 360.3 L255.1 361.1 L255.3 362.5 L254.9 364.0 L255.2 363.9 L255.0 365.6 L254.6 366.9 L254.8 368.6 L254.2 369.3 L253.6 371.3 L253.4 371.1 L251.2 371.6 L250.2 370.8 L248.6 371.7 L248.3 371.5 L246.6 371.5 L245.1 372.1 L244.0 371.7 L243.4 372.0 L241.7 371.3 L240.6 371.0 L239.7 371.3 L238.5 371.1 L236.6 371.1 L235.4 370.9 L233.6 371.6 L232.7 370.9 L232.0 369.6Z" fill="#0a0a0a" stroke="#0a0a0a" stroke-width="1" stroke-linejoin="round"/>
<path d="M235.7 351.1h.7M238.3 348.9h.7M241.2 352.8h.7M231.6 352.6h.7M241.0 352.3h.7M232.5 352.7h.7M238.0 346.1h.7M231.1 353.6h.7M238.2 348.0h.7M232.1 347.1h.7M233.6 352.2h.7M234.8 347.2h.7M240.9 352.3h.7M232.8 353.1h.7M237.7 352.3h.7M238.4 353.2h.7M239.7 352.7h.7M233.2 351.5h.7M236.8 351.9h.7M235.8 353.1h.7M237.1 348.1h.7M233.6 347.1h.7M236.4 346.5h.7M236.1 347.2h.7M236.4 350.0h.7M236.9 352.9h.7M231.1 352.7h.7M236.1 350.5h.7M238.3 352.7h.7M235.1 349.4h.7" stroke="#333" stroke-width="0.7" opacity="0.5" fill="none"/>
<text x="228" y="338" font-size="9.4" text-anchor="start">0.1</text>
</g>
<g id="panelF">
<text x="323" y="227" font-size="10.5" text-anchor="start" font-weight="bold">F</text>
<line x1="353.5" y1="243.6" x2="353.5" y2="351.8" stroke="#111" stroke-width="2.5"/>
<line x1="352.4" y1="350.6" x2="513" y2="350.6" stroke="#111" stroke-width="2.5"/>
<line x1="348.6" y1="350.8" x2="353" y2="350.8" stroke="#111" stroke-width="2"/>
<text x="348.4" y="353.8" font-size="7.8" text-anchor="end" font-weight="bold" style="stroke-width:0.3px">0</text>
<line x1="348.8" y1="329.88" x2="353" y2="329.88" stroke="#111" stroke-width="2"/>
<text x="348.4" y="332.68" font-size="7.8" text-anchor="end" font-weight="bold" style="stroke-width:0.3px">20</text>
<line x1="348.8" y1="308.76" x2="353" y2="308.76" stroke="#111" stroke-width="2"/>
<text x="348.4" y="311.56" font-size="7.8" text-anchor="end" font-weight="bold" style="stroke-width:0.3px">40</text>
<line x1="348.8" y1="287.64" x2="353" y2="287.64" stroke="#111" stroke-width="2"/>
<text x="348.4" y="290.44" font-size="7.8" text-anchor="end" font-weight="bold" style="stroke-width:0.3px">60</text>
<line x1="348.8" y1="266.52" x2="353" y2="266.52" stroke="#111" stroke-width="2"/>
<text x="348.4" y="269.32" font-size="7.8" text-anchor="end" font-weight="bold" style="stroke-width:0.3px">80</text>
<line x1="348.8" y1="245.4" x2="353" y2="245.4" stroke="#111" stroke-width="2"/>
<text x="348.4" y="248.2" font-size="7.8" text-anchor="end" font-weight="bold" style="stroke-width:0.3px">100</text>
<text x="331.3" y="293" font-size="11.4" text-anchor="middle" transform="rotate(-90 331.3 293)">Percent survival</text>
<line x1="403.8" y1="351.5" x2="403.8" y2="354.2" stroke="#111" stroke-width="1.8"/>
<text x="403.8" y="363.2" font-size="7.8" text-anchor="middle" font-weight="bold" style="stroke-width:0.3px">0.5</text>
<line x1="425.2" y1="351.5" x2="425.2" y2="354.2" stroke="#111" stroke-width="1.8"/>
<text x="425.2" y="363.2" font-size="7.8" text-anchor="middle" font-weight="bold" style="stroke-width:0.3px">1</text>
<line x1="447" y1="351.5" x2="447" y2="354.2" stroke="#111" stroke-width="1.8"/>
<text x="447" y="363.2" font-size="7.8" text-anchor="middle" font-weight="bold" style="stroke-width:0.3px">2</text>
<line x1="468.7" y1="351.5" x2="468.7" y2="354.2" stroke="#111" stroke-width="1.8"/>
<text x="468.7" y="363.2" font-size="7.8" text-anchor="middle" font-weight="bold" style="stroke-width:0.3px">4</text>
<line x1="490.4" y1="351.5" x2="490.4" y2="354.2" stroke="#111" stroke-width="1.8"/>
<text x="490.4" y="363.2" font-size="7.8" text-anchor="middle" font-weight="bold" style="stroke-width:0.3px">8</text>
<line x1="512" y1="351.5" x2="512" y2="354.2" stroke="#111" stroke-width="1.8"/>
<text x="512" y="363.2" font-size="7.8" text-anchor="middle" font-weight="bold" style="stroke-width:0.3px">16</text>
<text x="432.5" y="375" font-size="10" text-anchor="middle">Gy</text>
<path d="M353.6 246.2 C355.1 246.6 359.4 247.6 362.3 248.5 C365.2 249.4 368.1 250.2 371.0 251.4 C373.9 252.6 376.7 253.9 379.6 255.4 C382.5 256.9 385.4 258.4 388.3 260.1 C391.2 261.8 394.0 263.7 396.9 265.6 C399.8 267.5 402.7 269.6 405.6 271.7 C408.5 273.8 411.3 276.0 414.2 278.3 C417.1 280.6 419.6 282.8 422.9 285.5 C426.1 288.2 430.5 291.9 433.7 294.5 C436.9 297.1 439.4 299.4 442.3 301.4 C445.2 303.4 448.1 305.2 451.0 306.6 C453.9 308.1 456.7 309.2 459.6 310.1 C462.5 311.0 465.4 311.6 468.3 312.0 C471.2 312.4 473.8 312.6 476.9 312.7 C480.0 312.8 483.5 312.8 487.0 312.8 C490.5 312.8 496.2 312.8 498.0 312.8" fill="none" stroke="#000" stroke-width="2.5" stroke-linejoin="round" stroke-linecap="round"/>
<path d="M373.5 245.7 C376.0 245.7 382.9 245.8 388.3 245.9 C393.7 246.0 400.7 246.1 405.6 246.4 C410.5 246.7 414.5 247.1 417.7 247.5 C420.9 247.9 422.3 248.2 425.0 248.6 C427.7 249.0 430.8 249.3 433.7 250.0 C436.6 250.7 439.4 251.8 442.3 253.0 C445.2 254.2 448.8 256.0 451.0 257.3 C453.2 258.6 453.9 259.5 455.3 260.8 C456.7 262.1 457.4 262.8 459.6 265.1 C461.8 267.4 465.7 271.7 468.3 274.6 C470.9 277.5 472.9 279.9 475.2 282.4 C477.5 284.8 479.8 287.4 482.1 289.3 C484.4 291.2 486.4 292.8 489.0 294.0 C491.6 295.2 496.2 296.2 497.7 296.6" fill="none" stroke="#000" stroke-width="2.5" stroke-linejoin="round" stroke-linecap="round"/>
<rect x="351.3" y="243.89999999999998" width="4.6" height="4.6" fill="#000"/>
<line x1="425" y1="285.5" x2="425" y2="293" stroke="#111" stroke-width="1.4"/>
<line x1="422.4" y1="285.5" x2="427.6" y2="285.5" stroke="#111" stroke-width="1.4"/>
<line x1="422.4" y1="293" x2="427.6" y2="293" stroke="#111" stroke-width="1.4"/>
<rect x="422.7" y="286.9" width="4.6" height="4.6" fill="#000"/>
<line x1="454.6" y1="297" x2="454.6" y2="305.5" stroke="#111" stroke-width="1.4"/>
<line x1="452.0" y1="297" x2="457.20000000000005" y2="297" stroke="#111" stroke-width="1.4"/>
<line x1="452.0" y1="305.5" x2="457.20000000000005" y2="305.5" stroke="#111" stroke-width="1.4"/>
<rect x="452.3" y="298.9" width="4.6" height="4.6" fill="#000"/>
<rect x="473.5" y="307.7" width="4.6" height="4.6" fill="#000"/>
<rect x="495.3" y="317.0" width="4.6" height="4.6" fill="#000"/>
<line x1="425" y1="245" x2="425" y2="253" stroke="#111" stroke-width="1.4"/>
<line x1="422.4" y1="245" x2="427.6" y2="245" stroke="#111" stroke-width="1.4"/>
<line x1="422.4" y1="253" x2="427.6" y2="253" stroke="#111" stroke-width="1.4"/>
<path d="M425 245.73999999999998 L427.6 250.68 L422.4 250.68Z" fill="#000"/>
<path d="M455 258.14 L457.6 263.08 L452.4 263.08Z" fill="#000"/>
<path d="M475 280.14 L477.6 285.08 L472.4 285.08Z" fill="#000"/>
<path d="M498.6 293.14 L501.20000000000005 298.08 L496.0 298.08Z" fill="#000"/>
<rect x="371.1" y="316.90000000000003" width="3.8" height="3.8" fill="#000"/>
<text x="385" y="322" font-size="10" text-anchor="start">scr</text>
<path d="M373 329.69 L375.1 333.68 L370.9 333.68Z" fill="#000"/>
<text x="385" y="334.6" font-size="10" text-anchor="start">p53sh</text>
</g>
<g id="panelG">
<text x="325" y="373.9" font-size="10.5" text-anchor="start" font-weight="bold">G</text>
<line x1="352" y1="391" x2="352" y2="498.8" stroke="#111" stroke-width="2.5"/>
<line x1="351" y1="497.7" x2="513.4" y2="497.7" stroke="#111" stroke-width="2.5"/>
<line x1="347.2" y1="497.7" x2="352" y2="497.7" stroke="#111" stroke-width="2"/>
<text x="347.4" y="500.7" font-size="7.8" text-anchor="end" font-weight="bold" style="stroke-width:0.3px">0</text>
<line x1="347.4" y1="476.82" x2="352" y2="476.82" stroke="#111" stroke-width="2"/>
<text x="347.4" y="479.62" font-size="7.8" text-anchor="end" font-weight="bold" style="stroke-width:0.3px">20</text>
<line x1="347.4" y1="455.74" x2="352" y2="455.74" stroke="#111" stroke-width="2"/>
<text x="347.4" y="458.54" font-size="7.8" text-anchor="end" font-weight="bold" style="stroke-width:0.3px">40</text>
<line x1="347.4" y1="434.66" x2="352" y2="434.66" stroke="#111" stroke-width="2"/>
<text x="347.4" y="437.46" font-size="7.8" text-anchor="end" font-weight="bold" style="stroke-width:0.3px">60</text>
<line x1="347.4" y1="413.58" x2="352" y2="413.58" stroke="#111" stroke-width="2"/>
<text x="347.4" y="416.38" font-size="7.8" text-anchor="end" font-weight="bold" style="stroke-width:0.3px">80</text>
<line x1="347.4" y1="392.5" x2="352" y2="392.5" stroke="#111" stroke-width="2"/>
<text x="347.4" y="395.3" font-size="7.8" text-anchor="end" font-weight="bold" style="stroke-width:0.3px">100</text>
<text x="331.3" y="444" font-size="11.4" text-anchor="middle" transform="rotate(-90 331.3 444)">Percent survival</text>
<line x1="352.0" y1="498" x2="352.0" y2="501.8" stroke="#111" stroke-width="1.8"/>
<text x="351.7" y="510" font-size="7.8" text-anchor="middle" font-weight="bold" style="stroke-width:0.3px">-10</text>
<line x1="383.8" y1="498" x2="383.8" y2="501.8" stroke="#111" stroke-width="1.8"/>
<text x="383.5" y="510" font-size="7.8" text-anchor="middle" font-weight="bold" style="stroke-width:0.3px">-9</text>
<line x1="415.6" y1="498" x2="415.6" y2="501.8" stroke="#111" stroke-width="1.8"/>
<text x="415.3" y="510" font-size="7.8" text-anchor="middle" font-weight="bold" style="stroke-width:0.3px">-8</text>
<line x1="447.4" y1="498" x2="447.4" y2="501.8" stroke="#111" stroke-width="1.8"/>
<text x="447.1" y="510" font-size="7.8" text-anchor="middle" font-weight="bold" style="stroke-width:0.3px">-7</text>
<line x1="479.2" y1="498" x2="479.2" y2="501.8" stroke="#111" stroke-width="1.8"/>
<text x="478.9" y="510" font-size="7.8" text-anchor="middle" font-weight="bold" style="stroke-width:0.3px">-6</text>
<line x1="511.0" y1="498" x2="511.0" y2="501.8" stroke="#111" stroke-width="1.8"/>
<text x="510.7" y="510" font-size="7.8" text-anchor="middle" font-weight="bold" style="stroke-width:0.3px">-5</text>
<text x="421.2" y="521.6" font-size="10">AraC <tspan font-size="11.2">(10</tspan><tspan dy="-4" font-size="7.6">x</tspan><tspan dy="4" font-size="11.2">)</tspan></text>
<path d="M356.2 395.0 C357.8 395.6 362.8 397.3 365.8 398.5 C368.8 399.7 371.5 400.7 374.4 402.3 C377.3 403.9 380.4 406.2 383.0 408.4 C385.6 410.6 387.7 412.7 390.0 415.3 C392.3 417.9 394.3 420.3 396.9 423.9 C399.5 427.5 402.7 432.1 405.6 436.9 C408.5 441.7 411.9 448.5 414.2 452.5 C416.5 456.5 417.6 458.4 419.4 461.1 C421.2 463.8 423.2 466.4 425.0 468.8 C426.8 471.2 428.5 473.6 430.2 475.7 C431.9 477.8 433.4 479.8 435.4 481.7 C437.4 483.6 439.7 485.4 442.3 486.9 C444.9 488.3 448.1 489.5 451.0 490.4 C453.9 491.3 455.3 491.5 459.6 492.1 C463.9 492.7 471.1 493.5 476.9 493.9 C482.7 494.3 488.4 494.5 494.2 494.7 C500.0 494.9 508.6 495.1 511.5 495.2" fill="none" stroke="#000" stroke-width="2.5" stroke-linejoin="round" stroke-linecap="round"/>
<path d="M356.2 394.0 C358.7 394.4 366.5 395.2 371.0 396.2 C375.5 397.1 379.8 398.7 383.0 399.7 C386.2 400.7 387.7 401.1 390.0 402.3 C392.3 403.5 394.3 404.5 396.9 406.6 C399.5 408.7 402.7 411.6 405.6 414.8 C408.5 418.0 411.9 422.6 414.2 425.7 C416.5 428.8 417.6 430.6 419.4 433.4 C421.2 436.2 423.2 439.5 425.0 442.5 C426.8 445.5 428.5 448.6 430.2 451.5 C431.9 454.4 433.4 456.8 435.4 460.1 C437.4 463.4 439.7 467.9 442.3 471.4 C444.9 474.9 448.1 478.2 451.0 480.9 C453.9 483.5 456.7 485.7 459.6 487.3 C462.5 488.9 465.4 489.8 468.3 490.7 C471.2 491.6 472.6 492.2 476.9 492.8 C481.2 493.4 488.4 494.0 494.2 494.4 C500.0 494.8 508.6 495.1 511.5 495.2" fill="none" stroke="#000" stroke-width="2.5" stroke-linejoin="round" stroke-linecap="round"/>
<rect x="356.6" y="390.2" width="4.4" height="4.4" fill="#000"/>
<rect x="372.2" y="405.2" width="4.6" height="4.6" fill="#000"/>
<line x1="390" y1="411" x2="390" y2="421" stroke="#111" stroke-width="1.4"/>
<line x1="387.4" y1="411" x2="392.6" y2="411" stroke="#111" stroke-width="1.4"/>
<line x1="387.4" y1="421" x2="392.6" y2="421" stroke="#111" stroke-width="1.4"/>
<rect x="387.7" y="413.7" width="4.6" height="4.6" fill="#000"/>
<line x1="405" y1="431" x2="405" y2="443.5" stroke="#111" stroke-width="1.4"/>
<line x1="402.2" y1="431" x2="407.8" y2="431" stroke="#111" stroke-width="1.4"/>
<line x1="402.2" y1="443.5" x2="407.8" y2="443.5" stroke="#111" stroke-width="1.4"/>
<rect x="402.7" y="434.9" width="4.6" height="4.6" fill="#000"/>
<rect x="418.9" y="458.9" width="4.6" height="4.6" fill="#000"/>
<rect x="432.7" y="480.2" width="4.6" height="4.6" fill="#000"/>
<rect x="448.9" y="487.3" width="4.6" height="4.6" fill="#000"/>
<rect x="477.3" y="491.90000000000003" width="3.4" height="3.4" fill="#000"/>
<rect x="509.3" y="493.3" width="3.4" height="3.4" fill="#000"/>
<path d="M374.5 397.34 L377.1 402.28 L371.9 402.28Z" fill="#000"/>
<path d="M390 399.34 L392.6 404.28 L387.4 404.28Z" fill="#000"/>
<path d="M405 413.34 L407.6 418.28 L402.4 418.28Z" fill="#000"/>
<line x1="420" y1="424.5" x2="420" y2="432.5" stroke="#111" stroke-width="1.4"/>
<line x1="417.2" y1="424.5" x2="422.8" y2="424.5" stroke="#111" stroke-width="1.4"/>
<line x1="417.2" y1="432.5" x2="422.8" y2="432.5" stroke="#111" stroke-width="1.4"/>
<path d="M420 426.40000000000003 L422.0 430.20000000000005 L418.0 430.20000000000005Z" fill="#000"/>
<path d="M435 457.53999999999996 L437.6 462.47999999999996 L432.4 462.47999999999996Z" fill="#000"/>
<path d="M451 478.2 L453.0 482.0 L449.0 482.0Z" fill="#000"/>
<path d="M465 487.02 L466.8 490.44 L463.2 490.44Z" fill="#000"/>
<rect x="366.1" y="467.6" width="3.8" height="3.8" fill="#000"/>
<text x="380" y="472.2" font-size="10" text-anchor="start">scr</text>
<path d="M368 479.69 L370.1 483.68 L365.9 483.68Z" fill="#000"/>
<text x="380" y="484.6" font-size="10" text-anchor="start">p53 sh</text>
</g>
</svg></body></html>
